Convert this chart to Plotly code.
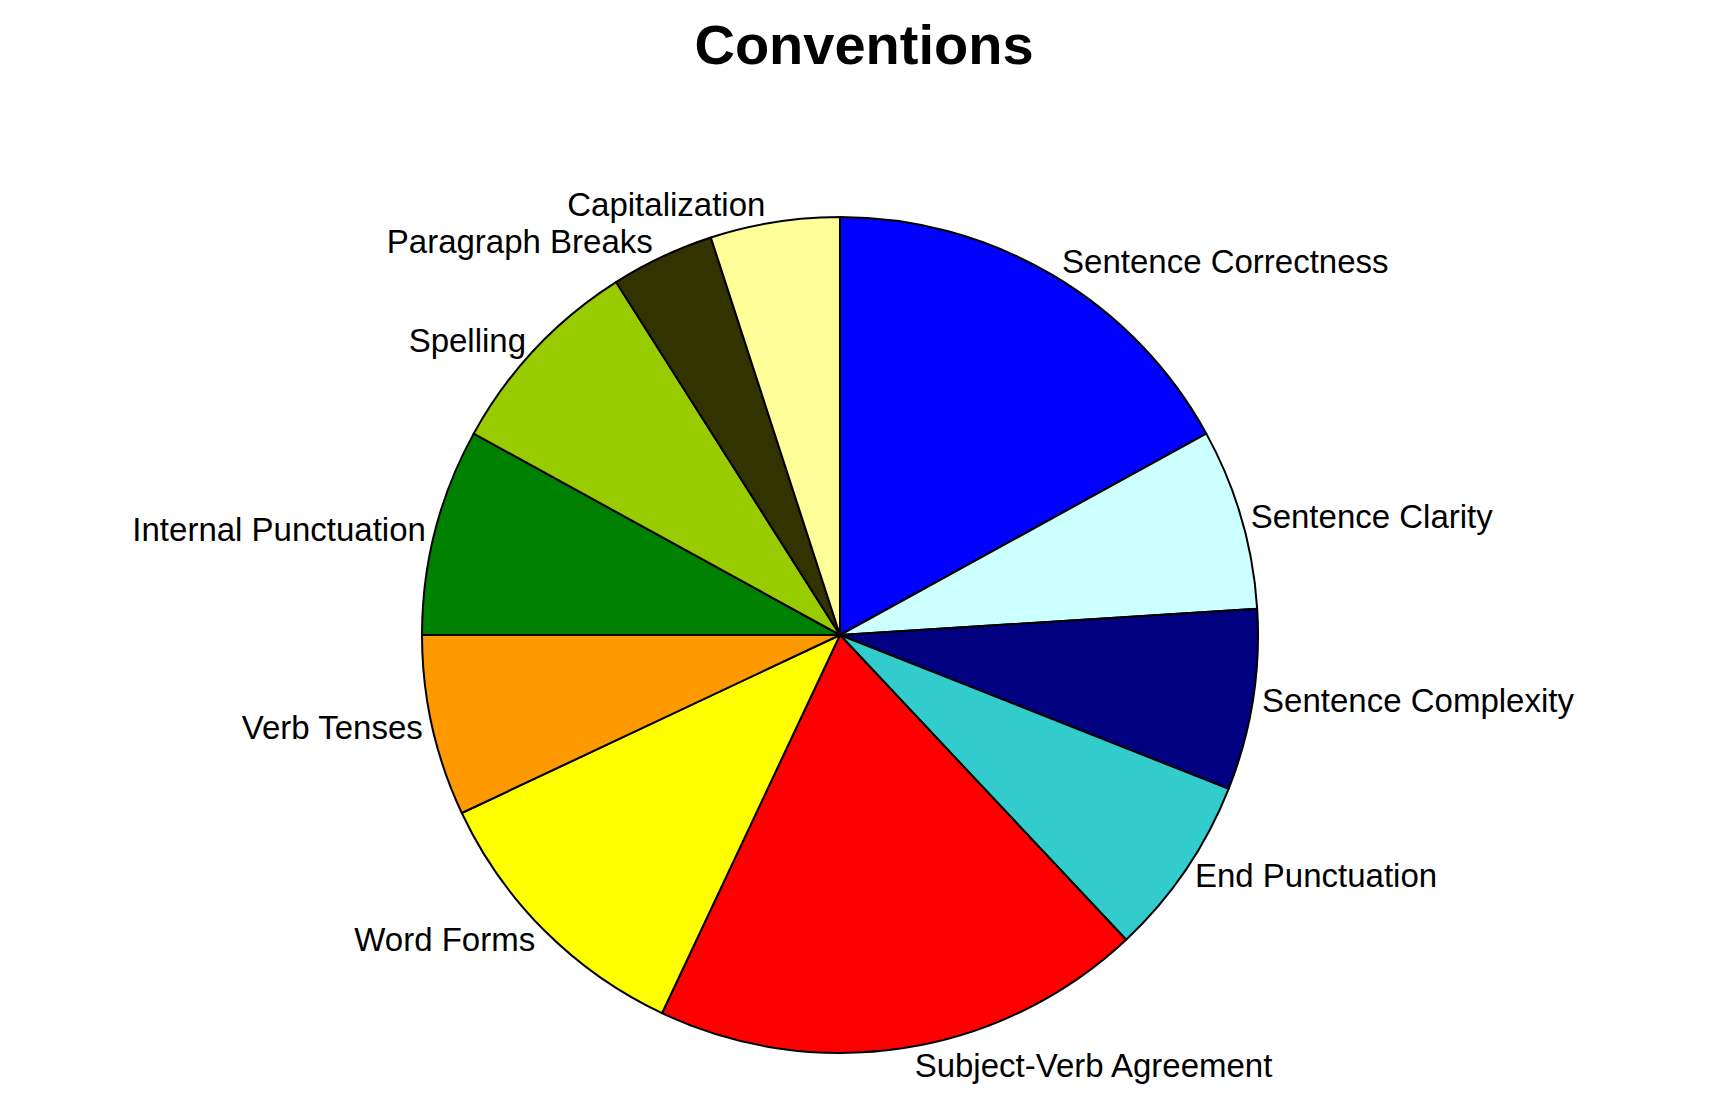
import plotly.graph_objects as go

categories = [
    "Sentence Correctness", "Sentence Clarity", "Sentence Complexity",
    "End Punctuation", "Subject-Verb Agreement", "Word Forms",
    "Verb Tenses", "Internal Punctuation", "Spelling",
    "Paragraph Breaks", "Capitalization",
]
values = [17, 7, 7, 7, 19, 11, 7, 8, 8, 4, 5]
colors = [
    "#0000FF", "#CCFFFF", "#000080", "#33CCCC", "#FF0000", "#FFFF00",
    "#FF9900", "#008000", "#99CC00", "#333300", "#FFFF99",
]
title_text = "Conventions"

W, H = 1712, 1101
cx, cy, r = 832, 627, 418
top_margin = 90

plot_h = H - top_margin

fig = go.Figure(go.Pie(
    labels=categories,
    values=values,
    sort=False,
    direction="clockwise",
    rotation=0,
    marker=dict(colors=colors, line=dict(color="black", width=2)),
    textinfo="label",
    textposition="outside",
    textfont=dict(family="Liberation Sans, Arial, sans-serif", size=33, color="black"),
    showlegend=False,
    hoverinfo="label+value+percent",
    domain=dict(
        x=[(cx - r) / W, (cx + r) / W],
        y=[(H - cy - r) / plot_h, (H - cy + r) / plot_h],
    ),
))

fig.update_layout(
    width=W, height=H,
    margin=dict(l=0, r=0, t=top_margin, b=0),
    paper_bgcolor="white",
    plot_bgcolor="white",
    title=dict(
        text=title_text,
        x=856 / W, xanchor="center", xref="paper",
        y=1 - 36 / H, yanchor="middle", yref="container",
        font=dict(family="Liberation Sans, Arial, sans-serif", size=56, color="black", weight=700),
    ),
)

fig.write_html("out.html")
